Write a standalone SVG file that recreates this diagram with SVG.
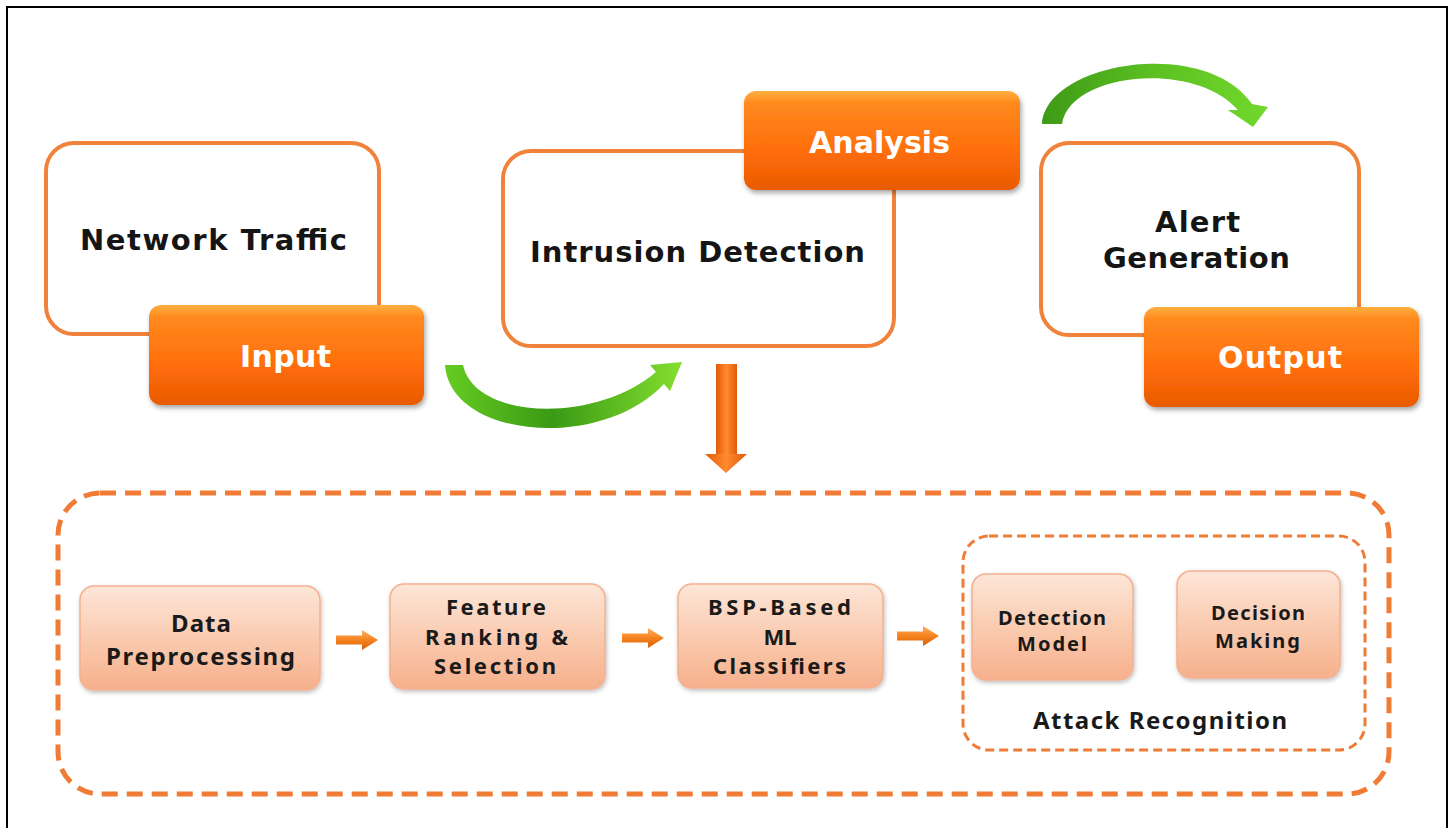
<svg xmlns="http://www.w3.org/2000/svg" width="1452" height="828" viewBox="0 0 1452 828">
<defs>
<linearGradient id="gOr" x1="0" y1="0" x2="0" y2="1">
<stop offset="0" stop-color="#FFB040"/>
<stop offset="0.12" stop-color="#FF8A1E"/>
<stop offset="0.6" stop-color="#FF6E0C"/>
<stop offset="1" stop-color="#E85A00"/>
</linearGradient>
<linearGradient id="gSal" x1="0" y1="0" x2="0" y2="1">
<stop offset="0" stop-color="#FDE6D8"/>
<stop offset="0.5" stop-color="#FACBB0"/>
<stop offset="1" stop-color="#F6B08C"/>
</linearGradient>
<linearGradient id="gGreen" x1="445" y1="0" x2="685" y2="0" gradientUnits="userSpaceOnUse">
<stop offset="0" stop-color="#66CC22"/>
<stop offset="0.45" stop-color="#3A9A14"/>
<stop offset="1" stop-color="#86E030"/>
</linearGradient>
<linearGradient id="gGreen2" x1="1042" y1="0" x2="1268" y2="0" gradientUnits="userSpaceOnUse">
<stop offset="0" stop-color="#3E9A16"/>
<stop offset="0.5" stop-color="#5CC022"/>
<stop offset="1" stop-color="#72D82C"/>
</linearGradient>
<linearGradient id="gDown" x1="0" y1="0" x2="1" y2="0">
<stop offset="0" stop-color="#E25A08"/>
<stop offset="0.5" stop-color="#FF8A30"/>
<stop offset="1" stop-color="#E25A08"/>
</linearGradient>
<linearGradient id="gSmall" x1="0" y1="0" x2="0" y2="1">
<stop offset="0" stop-color="#FFB060"/>
<stop offset="0.5" stop-color="#F5821E"/>
<stop offset="1" stop-color="#D86008"/>
</linearGradient>
<filter id="sh" x="-10%" y="-10%" width="130%" height="140%">
<feDropShadow dx="1.5" dy="3" stdDeviation="2.5" flood-color="#000" flood-opacity="0.35"/>
</filter>
<filter id="sh2" x="-10%" y="-10%" width="130%" height="140%">
<feDropShadow dx="1" dy="2" stdDeviation="2" flood-color="#000" flood-opacity="0.25"/>
</filter>
<symbol id="sarrow" viewBox="0 0 42 20" overflow="visible">
<path d="M0,5.5 H26 V0 L42,10 L26,20 V14.5 H0 Z" fill="url(#gSmall)"/>
</symbol>
</defs>
<style>
.frame{fill:#fff;stroke:#F0823C;stroke-width:4}
.tab{fill:url(#gOr);filter:url(#sh)}
.sal{fill:url(#gSal);stroke:#F4B090;stroke-width:1.5;filter:url(#sh2)}
.big{font-family:"DejaVu Sans","Liberation Sans",sans-serif;font-weight:700;font-size:29px;fill:#151515}
.wt{font-family:"DejaVu Sans","Liberation Sans",sans-serif;font-weight:700;font-size:30px;fill:#fff}
.sm{font-family:"Noto Sans","Liberation Sans",sans-serif;font-weight:700;font-size:24px;fill:#1a1a1a}
.s3{font-family:"Noto Sans","Liberation Sans",sans-serif;font-weight:700;font-size:22px;fill:#1a1a1a}
.xs{font-family:"Noto Sans","Liberation Sans",sans-serif;font-weight:700;font-size:20px;fill:#1a1a1a}
</style>
<rect x="0" y="0" width="1452" height="828" fill="#fff"/>
<rect x="7" y="7" width="1440" height="850" fill="none" stroke="#000" stroke-width="2"/>

<g id="network-traffic">
<rect class="frame" x="46" y="143" width="333" height="191" rx="28"/>
<text class="big" x="80" y="250" textLength="267" lengthAdjust="spacing">Network Traffic</text>
</g>
<g id="input">
<rect class="tab" x="149" y="305" width="275" height="100" rx="12"/>
<text class="wt" x="240" y="367" textLength="91" lengthAdjust="spacing">Input</text>
</g>

<g id="intrusion-detection">
<rect class="frame" x="503" y="151" width="391" height="195" rx="28"/>
<text class="big" x="530" y="262" textLength="335" lengthAdjust="spacing">Intrusion Detection</text>
</g>
<g id="analysis">
<rect class="tab" x="744" y="91" width="276" height="99" rx="12"/>
<text class="wt" x="809" y="153" textLength="141" lengthAdjust="spacing">Analysis</text>
</g>

<g id="alert-generation">
<rect class="frame" x="1041" y="143" width="318" height="192" rx="28"/>
<text class="big" x="1155" y="232" textLength="85" lengthAdjust="spacing">Alert</text>
<text class="big" x="1103" y="268" textLength="187" lengthAdjust="spacing">Generation</text>
</g>
<g id="output">
<rect class="tab" x="1144" y="307" width="275" height="100" rx="12"/>
<text class="wt" x="1218" y="368" textLength="124" lengthAdjust="spacing">Output</text>
</g>

<g id="connectors">
<path d="M445,365 C450,438 600,452 664,384 L670,391 L682,362 L650,365 L656,372 C595,424 475,420 463,365 Z" fill="url(#gGreen)"/>
<path d="M1042,124 C1046,62 1205,36 1252,104 L1268,107 L1253,127 L1228,110 L1238,110 C1195,60 1070,72 1062,124 Z" fill="url(#gGreen2)"/>
<rect x="716" y="364" width="21" height="92" fill="url(#gDown)"/>
<polygon points="705,454 747,454 726,473" fill="url(#gDown)"/>
<use href="#sarrow" x="336" y="630" width="42" height="20"/>
<use href="#sarrow" x="622" y="628" width="42" height="20"/>
<use href="#sarrow" x="897" y="626" width="42" height="20"/>
</g>

<g id="pipeline-container">
<rect x="58" y="493" width="1331" height="301" rx="42" fill="none" stroke="#F07B35" stroke-width="5" stroke-dasharray="16 9"/>
</g>

<g id="data-preprocessing">
<rect class="sal" x="80" y="586" width="240" height="104" rx="14"/>
<text class="sm" x="171" y="632" textLength="60" lengthAdjust="spacing">Data</text>
<text class="sm" x="106" y="665" textLength="189" lengthAdjust="spacing">Preprocessing</text>
</g>
<g id="feature-ranking">
<rect class="sal" x="390" y="584" width="215" height="105" rx="14"/>
<text class="s3" x="446" y="615" textLength="100" lengthAdjust="spacing">Feature</text>
<text class="s3" x="425" y="645" textLength="143" lengthAdjust="spacing">Ranking &amp;</text>
<text class="s3" x="434" y="674" textLength="122" lengthAdjust="spacing">Selection</text>
</g>
<g id="bsp-classifiers">
<rect class="sal" x="678" y="584" width="205" height="104" rx="14"/>
<text class="s3" x="708" y="615" textLength="143" lengthAdjust="spacing">BSP-Based</text>
<text class="s3" x="780" y="645" text-anchor="middle">ML</text>
<text class="s3" x="713" y="674" textLength="133" lengthAdjust="spacing">Classifiers</text>
</g>

<g id="attack-recognition">
<rect x="963" y="536" width="402" height="214" rx="26" fill="none" stroke="#F07B35" stroke-width="3" stroke-dasharray="9 5"/>
<text class="sm" x="1033" y="729" textLength="254" lengthAdjust="spacing">Attack Recognition</text>
</g>
<g id="detection-model">
<rect class="sal" x="972" y="574" width="161" height="106" rx="14"/>
<text class="xs" x="998" y="625" textLength="108" lengthAdjust="spacing">Detection</text>
<text class="xs" x="1017" y="651" textLength="70" lengthAdjust="spacing">Model</text>
</g>
<g id="decision-making">
<rect class="sal" x="1177" y="571" width="163" height="107" rx="14"/>
<text class="xs" x="1211" y="620" textLength="94" lengthAdjust="spacing">Decision</text>
<text class="xs" x="1215" y="648" textLength="85" lengthAdjust="spacing">Making</text>
</g>
</svg>
